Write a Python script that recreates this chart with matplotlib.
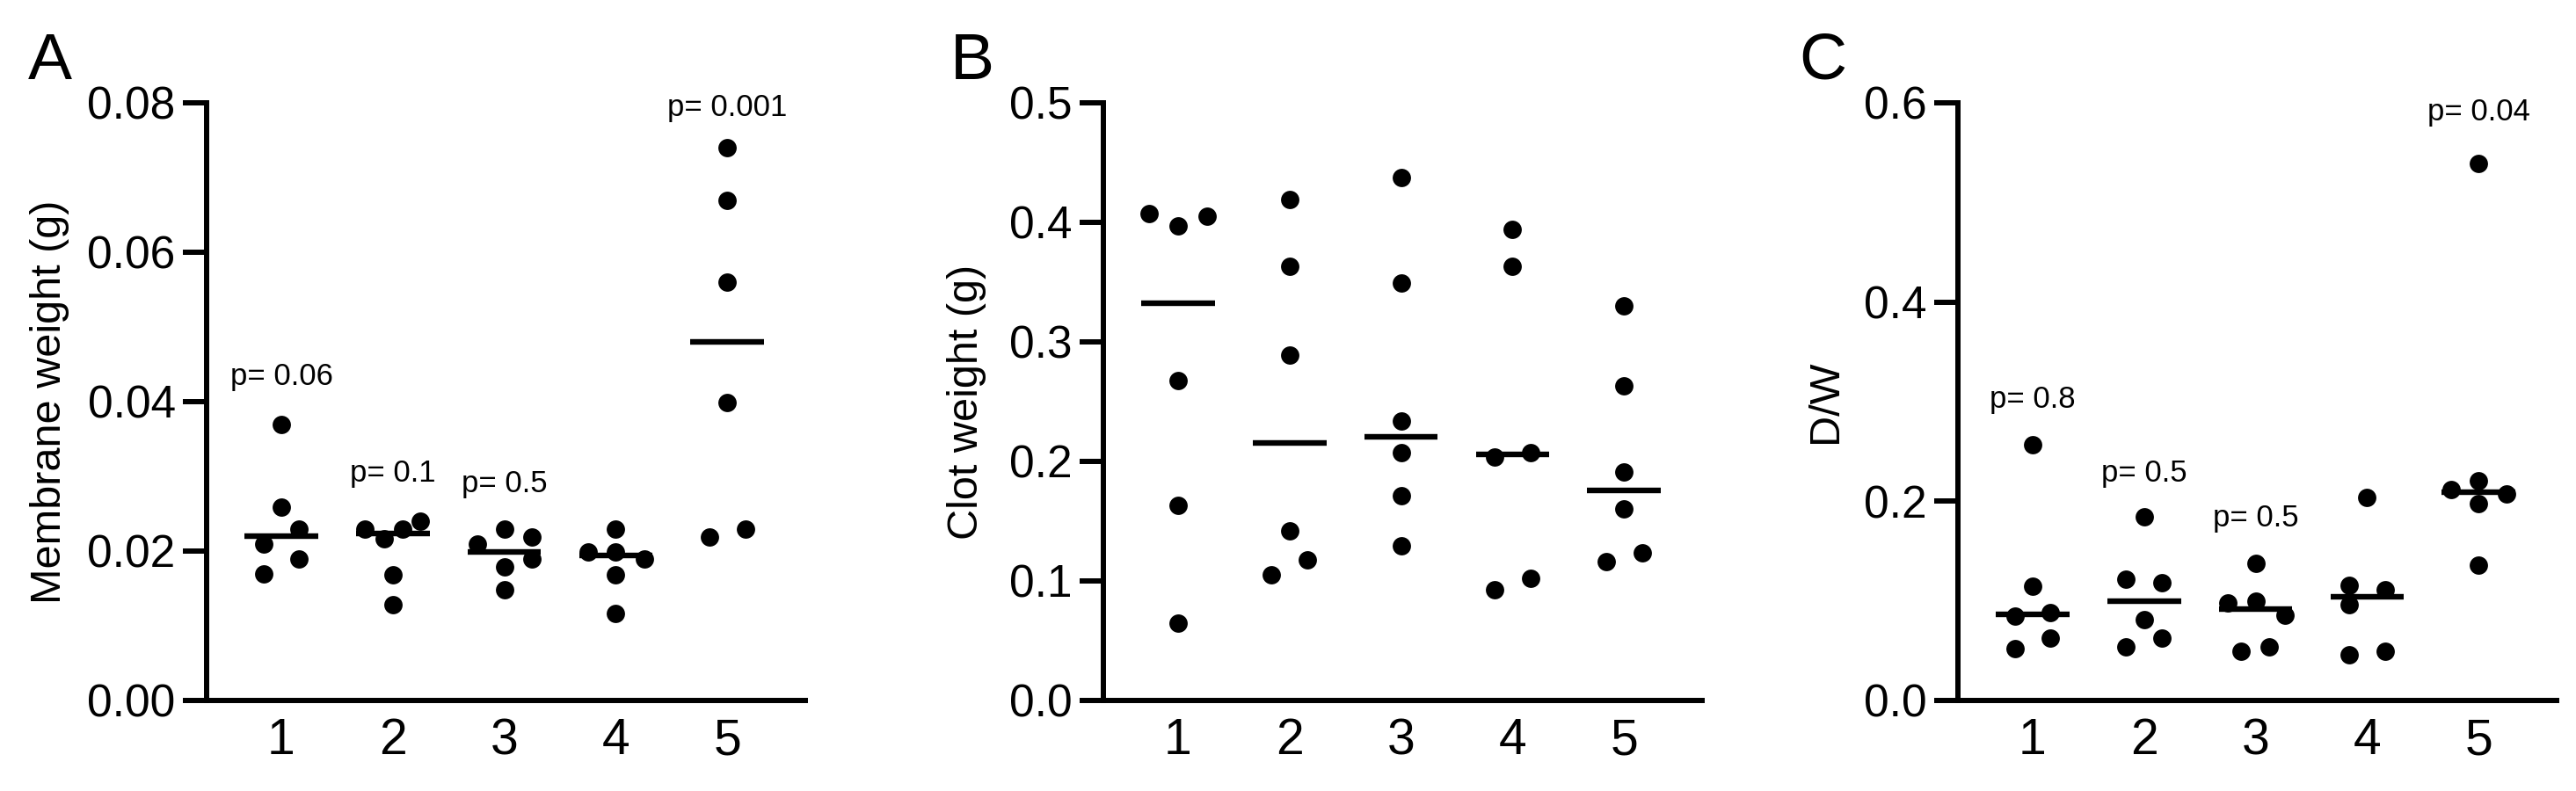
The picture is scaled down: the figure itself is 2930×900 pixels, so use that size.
import numpy as np
import matplotlib
matplotlib.use("Agg")
import matplotlib.pyplot as plt

plt.rcParams['font.family'] = ['Liberation Sans', 'DejaVu Sans']

groups = [1, 2, 3, 4, 5]
group_labels = ["1", "2", "3", "4", "5"]

# Panel A: membrane weight (g)
membrane = [
    [0.037, 0.0259, 0.023, 0.0209, 0.019, 0.017],
    [0.023, 0.0217, 0.023, 0.024, 0.0168, 0.0128],
    [0.0209, 0.023, 0.0219, 0.0189, 0.0179, 0.0148],
    [0.0199, 0.023, 0.0199, 0.0189, 0.0168, 0.0117],
    [0.074, 0.067, 0.056, 0.0399, 0.0219, 0.023],
]
# Panel B: clot weight (g)
clot = [
    [0.407, 0.397, 0.405, 0.268, 0.163, 0.065],
    [0.419, 0.363, 0.289, 0.142, 0.118, 0.105],
    [0.4376, 0.349, 0.234, 0.2076, 0.171, 0.1295],
    [0.394, 0.363, 0.204, 0.2076, 0.1025, 0.0928],
    [0.330, 0.263, 0.191, 0.160, 0.1236, 0.116],
]
# Panel C: D/W
dw = [
    [0.2568, 0.1149, 0.0844, 0.0880, 0.0625, 0.0524],
    [0.1846, 0.122, 0.1185, 0.0814, 0.0539, 0.0625],
    [0.1378, 0.0981, 0.0997, 0.0854, 0.0498, 0.0539],
    [0.2034, 0.1159, 0.1109, 0.0966, 0.0458, 0.0498],
    [0.539, 0.2202, 0.2115, 0.2075, 0.1973, 0.1363],
]

# p-value annotations (group, y position, text)
pvals_A_groups = [1, 2, 3, 5]
pvals_A_y = [0.0437, 0.0308, 0.0294, 0.0797]
pvals_A_text = ["p= 0.06", "p= 0.1", "p= 0.5", "p= 0.001"]
pvals_C_groups = [1, 2, 3, 5]
pvals_C_y = [0.305, 0.2304, 0.186, 0.593]
pvals_C_text = ["p= 0.8", "p= 0.5", "p= 0.5", "p= 0.04"]

# horizontal jitter of dots (layout)
jit_A = [[0, 0, .16, -.16, .16, -.16],
         [-.25, -.08, .09, .25, 0, 0],
         [-.24, 0, .25, .25, 0, 0],
         [-.25, 0, 0, .26, 0, 0],
         [0, 0, 0, 0, -.16, .16]]
jit_B = [[-.26, 0, .26, 0, 0, 0],
         [0, 0, 0, 0, .16, -.16],
         [0, 0, 0, 0, 0, 0],
         [0, 0, -.16, .16, .16, -.16],
         [0, 0, 0, 0, .16, -.16]]
jit_C = [[0, 0, -.16, .16, .16, -.16],
         [0, -.16, .16, 0, -.16, .16],
         [0, -.25, 0, .26, -.13, .12],
         [0, -.16, .16, -.16, -.16, .16],
         [0, 0, -.25, .25, 0, 0]]

fig = plt.figure(figsize=(29.3, 9), dpi=100)
bottom = 1 - 797 / 900
height = (797 - 117) / 900
width = 681 / 2930
lefts = [235 / 2930, 1255 / 2930, 2227 / 2930]

panels = [
    (membrane, jit_A, "Membrane weight (g)", (0, 0.08), np.arange(0, 0.081, 0.02), "{:.2f}", -0.2625,
     (pvals_A_groups, pvals_A_y, pvals_A_text), "A", 32),
    (clot, jit_B, "Clot weight (g)", (0, 0.5), np.arange(0, 0.51, 0.1), "{:.1f}", -0.229,
     None, "B", 1081),
    (dw, jit_C, "D/W", (0, 0.6), np.arange(0, 0.61, 0.2), "{:.1f}", -0.221,
     (pvals_C_groups, pvals_C_y, pvals_C_text), "C", 2046),
]

for (data, jit, ylabel, ylim, yticks, fmt, labx, pv, letter, letx), left in zip(panels, lefts):
    ax = fig.add_axes([left, bottom, width, height])
    for g, vals, offs in zip(groups, data, jit):
        xs = np.array(offs) + g
        ax.scatter(xs, vals, s=225, color='black', zorder=3, linewidths=0)
        med = np.median(vals)
        ax.hlines(med, g - 0.33, g + 0.33, color='black', lw=4.6, zorder=2)
    ax.set_xlim(0.33, 5.70)
    ax.set_ylim(*ylim)
    ax.set_yticks(yticks)
    ax.set_yticklabels([fmt.format(v) for v in yticks])
    ax.set_xticks(groups)
    ax.set_xticklabels(group_labels)
    for s in ['top', 'right']:
        ax.spines[s].set_visible(False)
    for s in ['left', 'bottom']:
        ax.spines[s].set_linewidth(4.3)
    ax.tick_params(axis='y', length=19.4, width=4.3, labelsize=37, pad=6)
    ax.tick_params(axis='x', length=0, labelsize=41, pad=14)
    ax.set_ylabel(ylabel, fontsize=35)
    ax.yaxis.set_label_coords(labx, 0.5)
    ax.yaxis.label.set_va('center')
    if pv is not None:
        for g, y, t in zip(*pv):
            ax.annotate(t, (g, y), xytext=(0, -9), textcoords='offset points',
                        ha='center', va='baseline', fontsize=25)
    fig.text(letx / 2930, 1 - 90 / 900, letter, fontsize=54, ha='left', va='baseline')

fig.savefig("out.png", dpi=100)
